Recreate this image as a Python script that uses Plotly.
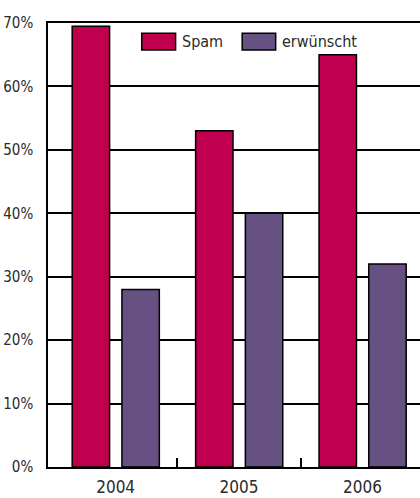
import plotly.graph_objects as go

# Data
years = ["2004", "2005", "2006"]
spam = [69.5, 53, 65]
erwuenscht = [28, 40, 32]
y_ticks = [0, 10, 20, 30, 40, 50, 60, 70]
y_tick_labels = [f"{v}%" for v in y_ticks]
series_names = ["Spam", "erwünscht"]

SPAM_COLOR = "#C0004F"
ERW_COLOR = "#675183"
FONT = "DejaVu Sans Condensed, Liberation Sans Narrow, sans-serif"
TEXT_COLOR = "#2a2a2a"

fig = go.Figure()
fig.add_trace(go.Bar(
    x=years, y=spam, name=series_names[0],
    width=0.303, offset=-0.352,
    marker=dict(color=SPAM_COLOR, line=dict(color="black", width=1.5)),
    showlegend=False,
))
fig.add_trace(go.Bar(
    x=years, y=erwuenscht, name=series_names[1],
    width=0.303, offset=0.051,
    marker=dict(color=ERW_COLOR, line=dict(color="black", width=1.5)),
    showlegend=False,
))

# boundary ticks between the year groups, on an overlaid axis
fig.add_trace(go.Scatter(x=[0.5, 1.5], y=[None, None], xaxis="x2",
                         showlegend=False, hoverinfo="skip"))

x_range = [-0.548, 2.466]

# hand-built legend: wide swatches with labels
legend_items = [
    (series_names[0], SPAM_COLOR, 0.252, 0.343),
    (series_names[1], ERW_COLOR, 0.522, 0.612),
]
shapes = []
annotations = []
for name, color, x0, x1 in legend_items:
    shapes.append(dict(type="rect", xref="paper", yref="paper",
                       x0=x0, x1=x1, y0=0.939, y1=0.977,
                       fillcolor=color, line=dict(color="black", width=1.5)))
    annotations.append(dict(xref="paper", yref="paper", x=x1 + 0.012, y=0.958,
                            text=name, showarrow=False, xanchor="left",
                            yanchor="middle",
                            font=dict(family=FONT, size=16, color=TEXT_COLOR)))

fig.update_layout(
    width=420, height=498,
    margin=dict(l=48, r=0, t=23, b=31, autoexpand=False),
    paper_bgcolor="white", plot_bgcolor="white",
    barmode="overlay",
    font=dict(family=FONT, color=TEXT_COLOR),
    shapes=shapes,
    annotations=annotations,
    xaxis=dict(
        type="category", range=x_range, automargin=False,
        showline=True, mirror=True, linecolor="black", linewidth=1.5,
        showgrid=False, zeroline=False,
        ticks="outside", ticklen=4, tickcolor="rgba(0,0,0,0)",
        tickfont=dict(family=FONT, size=17, color=TEXT_COLOR),
    ),
    xaxis2=dict(
        overlaying="x", anchor="y", side="bottom", range=x_range,
        automargin=False,
        tickvals=[0.5, 1.5], ticks="inside", ticklen=9, tickwidth=1.5,
        tickcolor="black", showticklabels=False, showgrid=False,
        zeroline=False, showline=False,
    ),
    yaxis=dict(
        range=[0, 70], tickvals=y_ticks, ticktext=y_tick_labels,
        automargin=False,
        showline=True, linecolor="black", linewidth=1.5,
        showgrid=True, gridcolor="black", gridwidth=1.5, zeroline=False,
        ticks="outside", ticklen=10, tickcolor="rgba(0,0,0,0)",
        tickfont=dict(family=FONT, size=15, color=TEXT_COLOR),
    ),
)

fig.write_html("out.html")
